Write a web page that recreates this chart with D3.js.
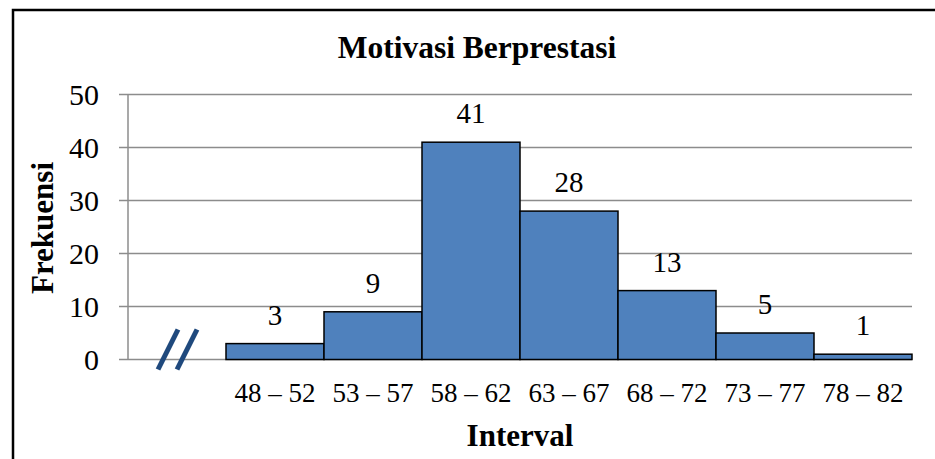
<!DOCTYPE html>
<html>
<head>
<meta charset="utf-8">
<script src="https://cdn.jsdelivr.net/npm/d3@7"></script>
<style>
  body { margin: 0; background: #fff; }
  text { font-family: "Liberation Serif", "Times New Roman", serif; fill: #000; }
</style>
</head>
<body>
<script>
let width = 935;
let height = 459;

// first slot is the empty band with the axis-break mark
let categories = ["", "48 – 52", "53 – 57", "58 – 62", "63 – 67", "68 – 72", "73 – 77", "78 – 82"];
let values = [null, 3, 9, 41, 28, 13, 5, 1];
let yTicks = [0, 10, 20, 30, 40, 50];

let svg = d3.select("body").append("svg").attr("width", width).attr("height", height);

// outer frame (right and bottom edges fall outside the picture)
svg.append("rect").attr("x", 13).attr("y", 10).attr("width", 960).attr("height", 500)
  .attr("fill", "none").attr("stroke", "#000").attr("stroke-width", 2.5);

let x = d3.scaleBand().domain(categories).range([128, 912]).padding(0);
let y = d3.scaleLinear().domain([0, 50]).range([359.5, 94.5]);

// gridlines
svg.append("g").selectAll("line").data(yTicks).join("line")
  .attr("x1", 119).attr("x2", 912)
  .attr("y1", d => y(d)).attr("y2", d => y(d))
  .attr("stroke", "#8c8c8c").attr("stroke-width", 1.5);

// y axis line
svg.append("line").attr("x1", 128).attr("x2", 128).attr("y1", y(50)).attr("y2", y(0))
  .attr("stroke", "#8c8c8c").attr("stroke-width", 1.5);

// y tick labels
svg.append("g").selectAll("text").data(yTicks).join("text")
  .attr("x", 99).attr("y", d => y(d)).attr("dy", "0.35em")
  .attr("text-anchor", "end").style("font-size", "30px")
  .text(d => d);

let data = categories.map((c, i) => ({cat: c, val: values[i]})).filter(d => d.val != null);

// bars
svg.append("g").selectAll("rect").data(data).join("rect")
  .attr("x", d => x(d.cat)).attr("width", x.bandwidth())
  .attr("y", d => y(d.val)).attr("height", d => y(0) - y(d.val))
  .attr("fill", "#4f81bd").attr("stroke", "#000").attr("stroke-width", 1.5);

// value labels
svg.append("g").selectAll("text").data(data).join("text")
  .attr("x", d => x(d.cat) + x.bandwidth() / 2).attr("y", d => y(d.val) - 19)
  .attr("text-anchor", "middle").style("font-size", "29px")
  .text(d => d.val);

// category labels
svg.append("g").selectAll("text").data(data).join("text")
  .attr("x", d => x(d.cat) + x.bandwidth() / 2).attr("y", 402)
  .attr("text-anchor", "middle").style("font-size", "27px")
  .text(d => d.cat);

// axis break mark in the empty first band
let bx = x(categories[0]) + x.bandwidth() / 2;
[-9, 10].forEach(off => {
  svg.append("line")
    .attr("x1", bx + off - 10).attr("y1", y(0) + 10)
    .attr("x2", bx + off + 10).attr("y2", y(0) - 30)
    .attr("stroke", "#1f497d").attr("stroke-width", 5);
});

// titles
svg.append("text").attr("x", 477).attr("y", 58).attr("text-anchor", "middle")
  .style("font-size", "31.5px").style("font-weight", "bold").text("Motivasi Berprestasi");

svg.append("text").attr("x", 520).attr("y", 446).attr("text-anchor", "middle")
  .style("font-size", "31px").style("font-weight", "bold").text("Interval");

svg.append("text").attr("transform", "translate(53,228) rotate(-90)").attr("text-anchor", "middle")
  .style("font-size", "31px").style("font-weight", "bold").text("Frekuensi");
</script>
</body>
</html>
